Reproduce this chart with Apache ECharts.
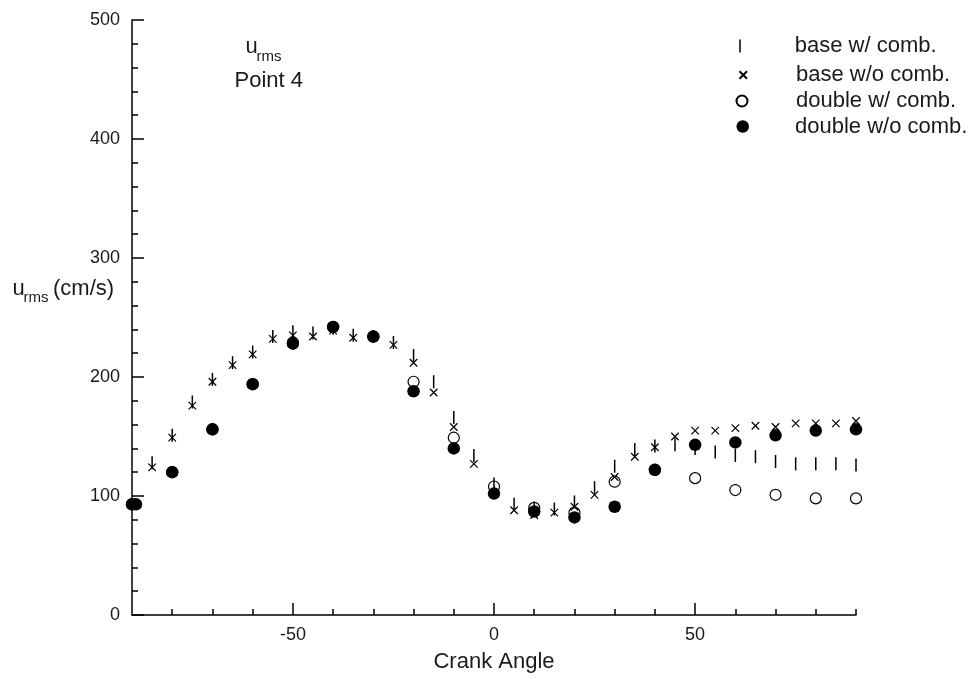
<!DOCTYPE html>
<html>
<head>
<meta charset="utf-8">
<script src="https://cdn.jsdelivr.net/npm/echarts@6/dist/echarts.min.js"></script>
<style>
html,body{margin:0;padding:0;background:#fff;}
#chart{width:980px;height:679px;}
</style>
</head>
<body>
<div id="chart"></div>
<script>
// ---- data ----
const baseAngles = [-85,-80,-75,-70,-65,-60,-55,-50,-45,-40,-35,-30,-25,-20,-15,-10,-5,0,5,10,15,20,25,30,35,40,45,50,55,60,65,70,75,80,85,90];
const baseWithComb = [128,151,179,198,212,221,234,238,237,241,235,234,229,218,196,166,134,110,93,90,89,95,107,125,139,142,143,140,137,134,133,129,127,127,127,126];
const baseWithoutComb = [124,149,176,196,210,219,232,235,234,239,233,233,227,212,187,158,127,102,88,84,86,91,101,116,133,141,150,155,155,157,159,158,161,161,161,163];

const doubleWithCombAngles = [-90,-80,-70,-60,-50,-40,-30,-20,-10,0,10,20,30,40,50,60,70,80,90];
const doubleWithComb = [93,120,156,194,229,242,234,196,149,108,90,86,112,122,115,105,101,98,98];

const doubleWithoutCombAngles = [-90,-89,-80,-70,-60,-50,-40,-30,-20,-10,0,10,20,30,40,50,60,70,80,90];
const doubleWithoutComb = [93,93,120,156,194,228,242,234,188,140,102,87,82,91,122,143,145,151,155,156];

const seriesNames = ['base w/ comb.', 'base w/o comb.', 'double w/ comb.', 'double w/o comb.'];

const xMajorTicks = [-50, 0, 50];
const xMinorTicks = [-80,-70,-60,-40,-30,-20,-10,10,20,30,40,60,70,80,90];
const yMin = 0, yMax = 500, yStep = 100;
const xMin = -90, xMax = 90;

// ---- chart ----
const FONT = 'Liberation Sans, Arial, sans-serif';
const TXT = '#1a1a1a';
const pairs = (xs, ys) => xs.map((x, i) => [x, ys[i]]);

const chart = echarts.init(document.getElementById('chart'), null, {renderer: 'canvas'});

const legendBase = {
  orient: 'vertical', padding: 0, itemGap: 0, selectedMode: false,
  symbolKeepAspect: true
};
function legendTxt(pad) {
  return {fontFamily: FONT, fontSize: 22, color: TXT, padding: [0, 0, 0, pad]};
}

const option = {
  animation: false,
  backgroundColor: '#fff',
  grid: {left: 132, right: 124, top: 20, bottom: 64, containLabel: false},
  legend: [
    Object.assign({}, legendBase, {data: [seriesNames[0]], left: 739.25, top: 35, itemWidth: 1.5, itemHeight: 13, textStyle: legendTxt(49)}),
    Object.assign({}, legendBase, {data: [seriesNames[1]], left: 738.5, top: 64, itemWidth: 7.5, itemHeight: 7.5, textStyle: legendTxt(44)}),
    Object.assign({}, legendBase, {data: [seriesNames[2]], left: 735.5, top: 90, itemWidth: 11, itemHeight: 11, textStyle: legendTxt(43.5)}),
    Object.assign({}, legendBase, {data: [seriesNames[3]], left: 736.5, top: 115.5, itemWidth: 12.5, itemHeight: 12.5, textStyle: legendTxt(41)})
  ],
  xAxis: [
    {
      type: 'value', min: xMin, max: xMax, position: 'bottom',
      name: 'Crank Angle', nameLocation: 'middle', nameGap: 36,
      nameTextStyle: {fontFamily: FONT, fontSize: 22, color: TXT},
      axisLine: {onZero: false, lineStyle: {color: '#000', width: 1.5}},
      axisTick: {inside: true, length: 12, customValues: xMajorTicks, lineStyle: {color: '#000', width: 1.5}},
      axisLabel: {customValues: xMajorTicks, fontFamily: FONT, fontSize: 18, color: TXT, margin: 11},
      splitLine: {show: false}
    },
    {
      type: 'value', min: xMin, max: xMax, position: 'bottom', gridIndex: 0,
      axisLine: {show: false, onZero: false},
      axisTick: {inside: true, length: 6, customValues: xMinorTicks, lineStyle: {color: '#000', width: 1.5}},
      axisLabel: {show: false},
      splitLine: {show: false}
    }
  ],
  yAxis: {
    type: 'value', min: yMin, max: yMax, interval: yStep,
    axisLine: {show: true, onZero: false, lineStyle: {color: '#000', width: 1.5}},
    axisTick: {show: true, inside: true, length: 12, lineStyle: {color: '#000', width: 1.5}},
    minorTick: {show: true, splitNumber: 5, length: 6, lineStyle: {color: '#000', width: 1.5}},
    axisLabel: {fontFamily: FONT, fontSize: 18, color: TXT, margin: 12},
    splitLine: {show: false},
    minorSplitLine: {show: false}
  },
  graphic: [
    {type: 'text', x: 245.5, y: 47.3, style: {text: 'u', font: '22px ' + FONT, fill: TXT, verticalAlign: 'middle', align: 'left'}},
    {type: 'text', x: 256.5, y: 56.4, style: {text: 'rms', font: '15px ' + FONT, fill: TXT, verticalAlign: 'middle', align: 'left'}},
    {type: 'text', x: 234.5, y: 81.3, style: {text: 'Point 4', font: '22px ' + FONT, fill: TXT, verticalAlign: 'middle', align: 'left'}},
    {type: 'text', x: 12.5, y: 289.3, style: {text: 'u', font: '22px ' + FONT, fill: TXT, verticalAlign: 'middle', align: 'left'}},
    {type: 'text', x: 23.5, y: 297.4, style: {text: 'rms', font: '15px ' + FONT, fill: TXT, verticalAlign: 'middle', align: 'left'}},
    {type: 'text', x: 53, y: 289.3, style: {text: '(cm/s)', font: '22px ' + FONT, fill: TXT, verticalAlign: 'middle', align: 'left'}}
  ],
  series: [
    {
      name: seriesNames[0], type: 'scatter', xAxisIndex: 0,
      symbol: 'rect', symbolSize: [1.5, 13],
      itemStyle: {color: '#000', opacity: 1},
      data: pairs(baseAngles, baseWithComb), z: 2
    },
    {
      name: seriesNames[1], type: 'scatter', xAxisIndex: 0,
      symbol: 'path://M0,0L10,10M10,0L0,10', symbolSize: 7.5,
      itemStyle: {color: 'rgba(0,0,0,0)', borderColor: '#000', borderWidth: 1.2, opacity: 1},
      data: pairs(baseAngles, baseWithoutComb), z: 3
    },
    {
      name: seriesNames[2], type: 'scatter', xAxisIndex: 0,
      symbol: 'circle', symbolSize: 11,
      itemStyle: {color: 'rgba(255,255,255,0)', borderColor: '#000', borderWidth: 1.2, opacity: 1},
      data: pairs(doubleWithCombAngles, doubleWithComb), z: 4
    },
    {
      name: seriesNames[3], type: 'scatter', xAxisIndex: 0,
      symbol: 'circle', symbolSize: 12.5,
      itemStyle: {color: '#000', opacity: 1},
      data: pairs(doubleWithoutCombAngles, doubleWithoutComb), z: 5
    }
  ]
};
chart.setOption(option);
</script>
</body>
</html>
